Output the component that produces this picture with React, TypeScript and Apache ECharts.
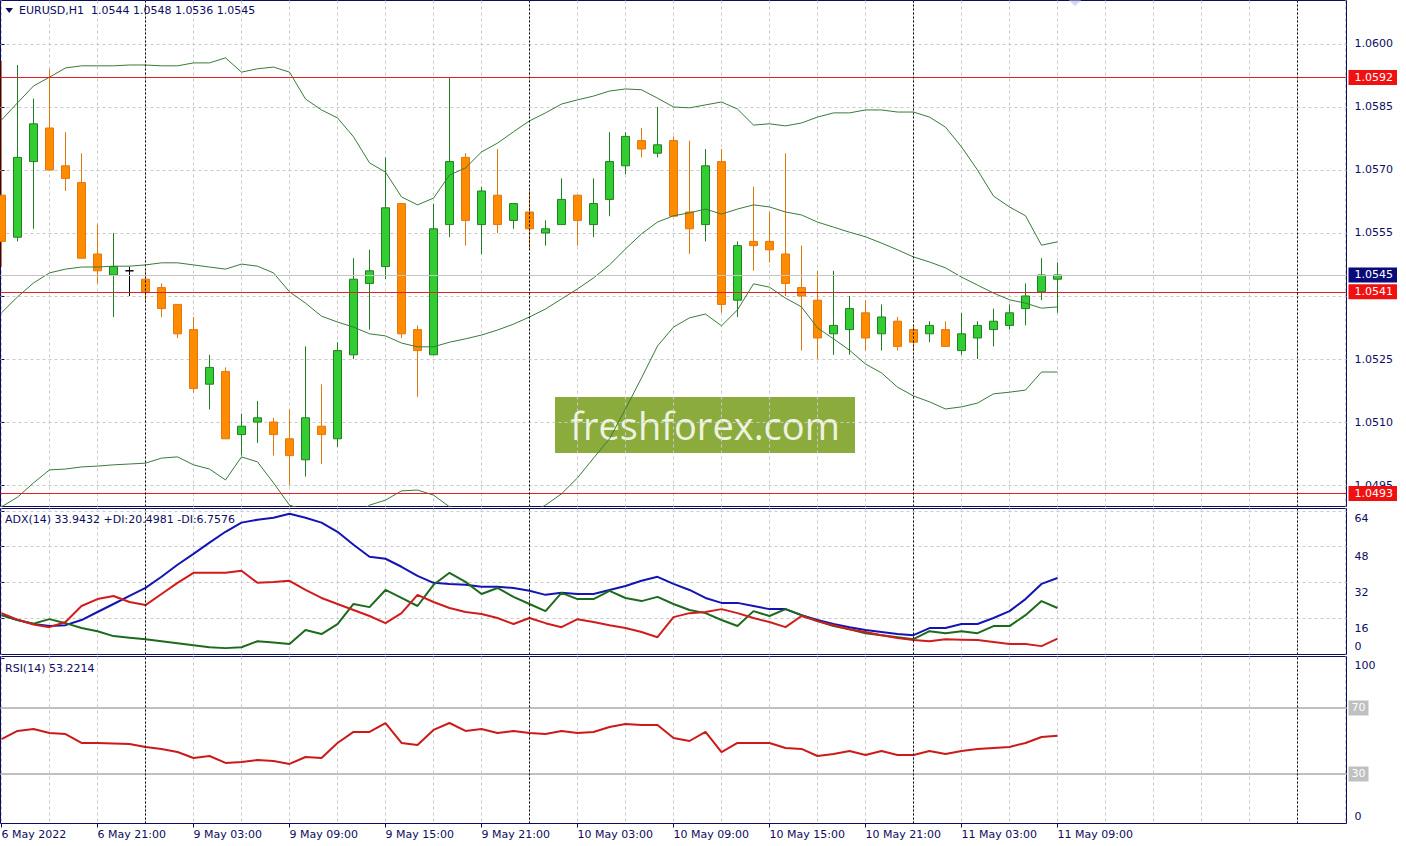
import React, { useEffect, useRef } from 'react';
import * as echarts from 'echarts';

// ---------- data ----------
// EURUSD H1 candles [open, high, low, close], first bar 6 May 2022 15:00
const ohlc: number[][] = [
  [1.0564, 1.0596, 1.0547, 1.0553],
  [1.0554, 1.0595, 1.0553, 1.0573],
  [1.0572, 1.0587, 1.0556, 1.0581],
  [1.0580, 1.0594, 1.0570, 1.0570],
  [1.0571, 1.0579, 1.0565, 1.0568],
  [1.0567, 1.0574, 1.0549, 1.0549],
  [1.0550, 1.0557, 1.0543, 1.0546],
  [1.0545, 1.0555, 1.0535, 1.0547],
  [1.0546, 1.0547, 1.0540, 1.0546],
  [1.0544, 1.0546, 1.0539, 1.0541],
  [1.0542, 1.0543, 1.0535, 1.0537],
  [1.0538, 1.0538, 1.0530, 1.0531],
  [1.0532, 1.0535, 1.0517, 1.0518],
  [1.0519, 1.0526, 1.0513, 1.0523],
  [1.0522, 1.0523, 1.0506, 1.0506],
  [1.0507, 1.0512, 1.0502, 1.0509],
  [1.0510, 1.0515, 1.0505, 1.0511],
  [1.0510, 1.0511, 1.0502, 1.0507],
  [1.0506, 1.0513, 1.0495, 1.0502],
  [1.0501, 1.0528, 1.0497, 1.0511],
  [1.0509, 1.0519, 1.0500, 1.0507],
  [1.0506, 1.0529, 1.0504, 1.0527],
  [1.0526, 1.0549, 1.0525, 1.0544],
  [1.0543, 1.0551, 1.0532, 1.0546],
  [1.0547, 1.0573, 1.0544, 1.0561],
  [1.0562, 1.0562, 1.0530, 1.0531],
  [1.0532, 1.0533, 1.0516, 1.0527],
  [1.0526, 1.0562, 1.0526, 1.0556],
  [1.0557, 1.0592, 1.0554, 1.0572],
  [1.0573, 1.0574, 1.0552, 1.0558],
  [1.0557, 1.0566, 1.0550, 1.0565],
  [1.0564, 1.0575, 1.0555, 1.0557],
  [1.0558, 1.0562, 1.0556, 1.0562],
  [1.0560, 1.0565, 1.0551, 1.0556],
  [1.0555, 1.0558, 1.0552, 1.0556],
  [1.0557, 1.0568, 1.0557, 1.0563],
  [1.0564, 1.0564, 1.0552, 1.0558],
  [1.0557, 1.0568, 1.0554, 1.0562],
  [1.0563, 1.0579, 1.0559, 1.0572],
  [1.0571, 1.0579, 1.0569, 1.0578],
  [1.0577, 1.0580, 1.0573, 1.0575],
  [1.0574, 1.0585, 1.0573, 1.0576],
  [1.0577, 1.0578, 1.0559, 1.0559],
  [1.0560, 1.0577, 1.0550, 1.0556],
  [1.0557, 1.0575, 1.0553, 1.0571],
  [1.0572, 1.0575, 1.0536, 1.0538],
  [1.0539, 1.0553, 1.0535, 1.0552],
  [1.0553, 1.0566, 1.0546, 1.0552],
  [1.0553, 1.0560, 1.0548, 1.0551],
  [1.0550, 1.0574, 1.0540, 1.0543],
  [1.0542, 1.0552, 1.0527, 1.0540],
  [1.0539, 1.0546, 1.0525, 1.0530],
  [1.0531, 1.0546, 1.0526, 1.0533],
  [1.0532, 1.0540, 1.0526, 1.0537],
  [1.0536, 1.0539, 1.0527, 1.0530],
  [1.0531, 1.0538, 1.0527, 1.0535],
  [1.0534, 1.0535, 1.0527, 1.0528],
  [1.0532, 1.0533, 1.0527, 1.0529],
  [1.0531, 1.0534, 1.0529, 1.0533],
  [1.0532, 1.0534, 1.0528, 1.0528],
  [1.0527, 1.0536, 1.0526, 1.0531],
  [1.0530, 1.0534, 1.0525, 1.0533],
  [1.0532, 1.0537, 1.0528, 1.0534],
  [1.0533, 1.0538, 1.0532, 1.0536],
  [1.0537, 1.0543, 1.0533, 1.0540],
  [1.0541, 1.0549, 1.0539, 1.0545],
  [1.0544, 1.0548, 1.0536, 1.0545],
];

const bbUpper = [
  1.05819, 1.0586, 1.059, 1.05921, 1.05943, 1.05948, 1.05948, 1.05948, 1.0595, 1.0595,
  1.05948, 1.05948, 1.05955, 1.05955, 1.05967, 1.05933, 1.05941, 1.05945, 1.05933, 1.05869,
  1.05843, 1.05824, 1.05779, 1.05717, 1.05695, 1.05636, 1.05617, 1.05633, 1.05688, 1.05705,
  1.05743, 1.05764, 1.05791, 1.05817, 1.05836, 1.05857, 1.05867, 1.05876, 1.05888, 1.05893,
  1.05891, 1.05871, 1.0585, 1.05848, 1.05855, 1.05862, 1.05845, 1.05807, 1.0581, 1.05805,
  1.05812, 1.05826, 1.05836, 1.05836, 1.05843, 1.05843, 1.05838, 1.05838, 1.05826, 1.05802,
  1.05755, 1.057, 1.05638, 1.05612, 1.05591, 1.05521, 1.05529,
];
const bbMiddle = [
  1.0536, 1.05398, 1.05431, 1.05455, 1.05464, 1.05469, 1.05469, 1.05471, 1.05471, 1.05474,
  1.05479, 1.05479, 1.05474, 1.05469, 1.05464, 1.05476, 1.05471, 1.05455, 1.0541, 1.05383,
  1.05352, 1.05338, 1.05326, 1.0531, 1.05305, 1.05288, 1.05279, 1.05279, 1.0529, 1.05298,
  1.05307, 1.05319, 1.05333, 1.0535, 1.05369, 1.05393, 1.05417, 1.05443, 1.05474, 1.05512,
  1.05548, 1.05576, 1.05591, 1.05598, 1.05607, 1.05595, 1.05607, 1.05617, 1.05612, 1.056,
  1.05593, 1.05576, 1.05564, 1.05552, 1.05541, 1.05526, 1.0551, 1.05493, 1.05481, 1.05467,
  1.05445, 1.05426, 1.05407, 1.05391, 1.05383, 1.05371, 1.05374,
];
const bbLower = [
  1.04898, 1.04921, 1.04955, 1.04986, 1.04988, 1.04993, 1.04995, 1.04998, 1.05, 1.05002,
  1.05014, 1.05017, 1.04998, 1.04988, 1.04962, 1.05017, 1.05005, 1.04955, 1.04902, 1.0489,
  1.04862, 1.04852, 1.04874, 1.04902, 1.04914, 1.04936, 1.04938, 1.04926, 1.04898, 1.0489,
  1.04871, 1.04874, 1.04876, 1.04883, 1.04902, 1.04929, 1.04967, 1.05014, 1.0506, 1.05131,
  1.05205, 1.05281, 1.05326, 1.05348, 1.05357, 1.05329, 1.05367, 1.05429, 1.05421, 1.05395,
  1.05374, 1.05324, 1.05298, 1.05271, 1.05238, 1.05217, 1.05183, 1.05162, 1.05148, 1.05131,
  1.05136, 1.05145, 1.05167, 1.05171, 1.05176, 1.05219, 1.05219,
];

const adx = [
  17.3, 15.1, 13.3, 12.4, 12.8, 15.1, 18.7, 22.3, 25.9, 29.5,
  34.5, 39.9, 44.8, 49.8, 54.7, 58.8, 60.1, 61.0, 62.8, 61.0,
  58.8, 54.7, 48.9, 43.5, 42.6, 39.0, 34.9, 31.8, 31.3, 30.9,
  30.0, 30.0, 29.5, 28.2, 26.4, 27.3, 26.8, 26.8, 28.6, 30.4,
  32.7, 34.5, 31.3, 28.6, 25.0, 22.8, 22.8, 21.4, 20.0, 20.0,
  17.3, 15.1, 13.3, 11.9, 10.6, 9.7, 8.8, 8.3, 11.5, 11.5,
  13.3, 13.3, 16.0, 19.1, 24.5, 31.3, 33.9432,
];
const plusDI = [
  17.3, 15.1, 13.5, 15.5, 13.7, 11.5, 10.1, 7.9, 7.2, 6.5,
  5.6, 4.7, 3.8, 2.9, 2.5, 2.9, 5.6, 5.0, 4.3, 10.6,
  8.8, 13.3, 22.3, 20.9, 28.6, 25.0, 21.4, 30.9, 36.3, 32.2,
  26.8, 29.5, 25.5, 22.3, 19.1, 27.3, 24.5, 24.5, 28.2, 25.0,
  23.6, 25.5, 22.3, 19.6, 18.2, 15.1, 12.4, 19.1, 16.9, 20.0,
  17.3, 14.6, 12.4, 11.0, 9.2, 8.3, 7.4, 6.5, 10.1, 9.2,
  10.1, 9.2, 12.4, 12.4, 17.3, 23.6, 20.4981,
];
const minusDI = [
  18.2, 15.3, 13.1, 11.9, 14.2, 21.4, 24.5, 25.9, 23.2, 21.8,
  26.8, 31.8, 36.3, 36.3, 36.3, 37.2, 31.8, 32.2, 32.7, 28.6,
  25.0, 22.3, 19.6, 16.9, 13.7, 18.2, 26.4, 23.2, 20.5, 18.7,
  17.8, 16.0, 13.3, 16.0, 13.7, 11.9, 15.5, 14.2, 12.8, 11.5,
  9.7, 7.4, 16.4, 18.2, 18.7, 20.0, 18.2, 16.0, 14.2, 11.9,
  16.9, 14.6, 12.8, 11.0, 9.7, 8.3, 7.0, 6.1, 5.6, 6.5,
  6.3, 6.1, 5.2, 4.3, 4.3, 3.4, 6.7576,
];
const rsi = [
  51.2, 56.1, 57.3, 54.8, 54.2, 48.8, 48.8, 48.5, 48.2, 46.4,
  45.2, 43.3, 39.7, 40.9, 36.7, 37.3, 38.5, 37.9, 36.1, 40.3,
  39.7, 48.8, 55.5, 55.5, 60.9, 48.8, 47.6, 56.7, 60.9, 56.1,
  57.3, 54.8, 56.1, 54.8, 54.2, 56.1, 54.8, 55.5, 58.5, 60.3,
  59.7, 59.7, 51.8, 50.0, 55.5, 43.3, 48.8, 48.8, 48.8, 45.8,
  45.2, 40.9, 42.1, 43.9, 41.5, 43.9, 41.5, 41.5, 43.9, 42.1,
  43.9, 45.2, 45.8, 46.4, 48.8, 52.4, 53.2214,
];

const timeLabels = [
  '6 May 2022', '6 May 21:00', '9 May 03:00', '9 May 09:00', '9 May 15:00', '9 May 21:00',
  '10 May 03:00', '10 May 09:00', '10 May 15:00', '10 May 21:00', '11 May 03:00', '11 May 09:00',
];
const timeLabelBars = [0, 6, 12, 18, 24, 30, 36, 42, 48, 54, 60, 66];
const gridBars = [0, 3, 6, 9, 12, 15, 18, 21, 24, 27, 30, 33, 36, 39, 42, 45, 48, 51, 54, 57, 60, 63, 66, 69, 72, 75, 78, 81, 84];
const daySeparators = [9, 33, 57, 81];
const priceTicks = [1.0495, 1.051, 1.0525, 1.054, 1.0555, 1.057, 1.0585, 1.06];
const priceLevels = [1.0592, 1.0541, 1.0493];
const adxTicks = [0, 16, 32, 48, 64];
const rsiTicks = [0, 100];
const rsiLevels = [70, 30];

// ---------- styling ----------
const FONT = 'DejaVu Sans';
const NAVY = '#0c0c62';
const GRIDLINE = '#c9c9c9';
const X_MIN = -0.0625;
const X_MAX = 84.0625;
const Y_MIN = 1.0489881;
const Y_MAX = 1.0610357;

const last = ohlc[ohlc.length - 1];
const fmt4 = (v: number) => v.toFixed(4);

const labelBox = (bg: string, pad: number[] = [1, 4, 1, 6]) => ({
  show: true,
  position: 'end',
  distance: 2,
  formatter: (p: any) => (typeof p.value === 'number' && p.value < 5 ? fmt4(p.value) : String(p.value)),
  backgroundColor: bg,
  color: '#ffffff',
  padding: pad,
  fontFamily: FONT,
  fontSize: 11,
  lineHeight: 13,
});

const separatorMarkLine = {
  silent: true,
  symbol: ['none', 'none'],
  animation: false,
  precision: 4,
  lineStyle: { color: '#000000', type: [2, 2], width: 1 },
  label: { show: false },
  emphasis: { disabled: true },
  data: daySeparators.map((s) => ({ xAxis: s })),
};

const splitXAxis = (gridIndex: number) => ({
  type: 'value',
  gridIndex,
  min: X_MIN,
  max: X_MAX,
  position: 'top',
  axisLine: { show: false },
  axisTick: { show: false, customValues: gridBars },
  axisLabel: { show: false, customValues: gridBars },
  splitLine: { show: true, lineStyle: { color: GRIDLINE, type: [3, 3], width: 1 } },
});

const gridBase = {
  show: true,
  borderColor: NAVY,
  borderWidth: 1,
  backgroundColor: '#ffffff',
  containLabel: false,
  outerBoundsMode: 'none',
};

const lineSeries = (name: string, values: number[], xi: number, yi: number, color: string, width: number, extra: any = {}) => ({
  type: 'line',
  name,
  xAxisIndex: xi,
  yAxisIndex: yi,
  data: values.map((v, i) => [i, v]),
  symbol: 'none',
  showSymbol: false,
  silent: true,
  lineStyle: { color, width },
  emphasis: { disabled: true },
  z: 3,
  ...extra,
});

const titleStyle = { fontSize: 11, fontWeight: 'normal', color: NAVY, fontFamily: FONT };

const option: any = {
  animation: false,
  backgroundColor: '#ffffff',
  textStyle: { fontFamily: FONT },
  title: [
    {
      text: `EURUSD,H1  ${fmt4(last[0])} ${fmt4(last[1])} ${fmt4(last[2])} ${fmt4(last[3])}`,
      left: 19, top: 4.5, padding: 0, textStyle: titleStyle,
    },
    {
      text: `ADX(14) ${adx[adx.length - 1].toFixed(4)} +DI:${plusDI[plusDI.length - 1].toFixed(4)} -DI:${minusDI[minusDI.length - 1].toFixed(4)}`,
      left: 5, top: 513.5, padding: 0, textStyle: titleStyle,
    },
    {
      text: `RSI(14) ${rsi[rsi.length - 1].toFixed(4)}`,
      left: 5, top: 662.5, padding: 0, textStyle: titleStyle,
    },
  ],
  grid: [
    { ...gridBase, left: 0.5, top: 0.5, width: 1346, height: 506 },
    { ...gridBase, left: 0.5, top: 508.5, width: 1346, height: 146 },
    { ...gridBase, left: 0.5, top: 656.5, width: 1346, height: 167 },
  ],
  xAxis: [
    splitXAxis(0),
    splitXAxis(1),
    splitXAxis(2),
    {
      type: 'value',
      gridIndex: 2,
      min: X_MIN,
      max: X_MAX,
      position: 'bottom',
      axisLine: { show: false },
      axisTick: { show: true, length: 4, customValues: timeLabelBars, lineStyle: { color: NAVY, width: 1 } },
      axisLabel: {
        show: true,
        customValues: timeLabelBars,
        formatter: (v: number) => {
          const k = timeLabelBars.indexOf(Math.round(v));
          return k >= 0 ? timeLabels[k] : '';
        },
        align: 'left',
        margin: 5,
        color: NAVY,
        fontFamily: FONT,
        fontSize: 11,
      },
      splitLine: { show: false },
    },
  ],
  yAxis: [
    {
      type: 'value',
      gridIndex: 0,
      position: 'right',
      min: Y_MIN,
      max: Y_MAX,
      axisLine: { show: false },
      axisTick: { show: true, length: 3, customValues: priceTicks, lineStyle: { color: NAVY } },
      axisLabel: { customValues: priceTicks, formatter: (v: number) => fmt4(v), margin: 8, color: NAVY, fontFamily: FONT, fontSize: 11 },
      splitLine: { show: true, lineStyle: { color: GRIDLINE, type: [3, 3], width: 1 } },
    },
    {
      type: 'value',
      gridIndex: 1,
      position: 'right',
      min: -0.36,
      max: 65.14,
      axisLine: { show: false },
      axisTick: { show: true, length: 3, customValues: [16, 32, 48, 64], lineStyle: { color: NAVY } },
      axisLabel: {
        customValues: adxTicks,
        margin: 8,
        color: NAVY,
        fontFamily: FONT,
        fontSize: 11,
        formatter: (v: number) => {
          const r = Math.round(v);
          if (r === 0) return '{b|0}';
          if (r === 64) return '{c|64}';
          return `{a|${r}}`;
        },
        rich: {
          a: { padding: [20, 0, 0, 0], color: NAVY, fontFamily: FONT, fontSize: 11 },
          b: { padding: [0, 0, 14, 0], color: NAVY, fontFamily: FONT, fontSize: 11 },
          c: { padding: [14, 0, 0, 0], color: NAVY, fontFamily: FONT, fontSize: 11 },
        },
      },
      splitLine: { show: true, lineStyle: { color: GRIDLINE, type: [3, 3], width: 1 } },
    },
    {
      type: 'value',
      gridIndex: 2,
      position: 'right',
      min: 0,
      max: 101.21,
      axisLine: { show: false },
      axisTick: { show: true, length: 3, customValues: rsiTicks, lineStyle: { color: NAVY } },
      axisLabel: {
        customValues: rsiTicks,
        margin: 8,
        color: NAVY,
        fontFamily: FONT,
        fontSize: 11,
        formatter: (v: number) => (Math.round(v) === 0 ? '{b|0}' : `{t|${Math.round(v)}}`),
        rich: {
          t: { padding: [15, 0, 0, 0], color: NAVY, fontFamily: FONT, fontSize: 11 },
          b: { padding: [0, 0, 15, 0], color: NAVY, fontFamily: FONT, fontSize: 11 },
        },
      },
      splitLine: { show: false },
    },
  ],
  series: [
    {
      type: 'candlestick',
      name: 'EURUSD',
      xAxisIndex: 0,
      yAxisIndex: 0,
      barWidth: 9,
      silent: true,
      data: ohlc.map((c, i) => [i, c[0], c[3], c[2], c[1]]),
      itemStyle: {
        color: '#32cd32',
        color0: '#ff8c00',
        borderColor: '#217f21',
        borderColor0: '#e2770e',
        borderColorDoji: '#000000',
        borderWidth: 1,
      },
      z: 2,
      markLine: {
        silent: true,
        symbol: ['none', 'none'],
        animation: false,
        precision: 5,
        emphasis: { disabled: true },
        lineStyle: { color: '#e02222', type: 'solid', width: 1, opacity: 1 },
        label: labelBox('#f01010'),
        data: priceLevels.map((v) => ({ yAxis: v })),
      },
    },
    lineSeries('BB upper', bbUpper, 0, 0, '#3a7a3a', 1, {
      markLine: {
        silent: true,
        symbol: ['none', 'none'],
        animation: false,
        precision: 5,
        emphasis: { disabled: true },
        lineStyle: { color: '#c4c4c4', type: 'solid', width: 1 },
        label: labelBox('#0a0a78'),
        data: [{ yAxis: last[3] }],
      },
    }),
    lineSeries('BB middle', bbMiddle, 0, 0, '#3a7a3a', 1, { markLine: separatorMarkLine }),
    lineSeries('BB lower', bbLower, 0, 0, '#3a7a3a', 1),
    lineSeries('ADX', adx, 1, 1, '#1414b4', 2, { markLine: separatorMarkLine }),
    lineSeries('+DI', plusDI, 1, 1, '#1d6a1d', 2),
    lineSeries('-DI', minusDI, 1, 1, '#d01c1c', 2),
    lineSeries('RSI', rsi, 2, 2, '#cc1a1a', 2, {
      markLine: {
        silent: true,
        symbol: ['none', 'none'],
        animation: false,
        precision: 2,
        emphasis: { disabled: true },
        lineStyle: { color: '#c0c0c0', type: 'solid', width: 2 },
        label: labelBox('#c0c0c0', [1, 3, 1, 3]),
        data: rsiLevels.map((v) => ({ yAxis: v })),
      },
    }),
    lineSeries('RSI separators', [], 2, 2, '#000000', 1, { markLine: separatorMarkLine }),
  ],
  graphic: [
    {
      type: 'polygon',
      shape: { points: [[5.5, 8], [13, 8], [9.25, 13]] },
      style: { fill: NAVY },
      z: 50,
    },
    {
      type: 'polygon',
      shape: { points: [[1069, 0.5], [1081, 0.5], [1075, 6]] },
      style: { fill: '#d6d6f2' },
      z: 50,
    },
    {
      type: 'group',
      z: 60,
      children: [
        { type: 'rect', shape: { x: 555, y: 397, width: 300, height: 56 }, style: { fill: '#8bab3c' } },
        {
          type: 'text',
          x: 705,
          y: 425,
          style: {
            text: 'freshforex.com',
            fill: '#eef3df',
            font: '38px "Open Sans"',
            align: 'center',
            verticalAlign: 'middle',
          },
        },
      ],
    },
  ],
};

export default function App() {
  const ref = useRef<HTMLDivElement>(null);
  useEffect(() => {
    if (!ref.current) return;
    const chart = echarts.init(ref.current, null, { renderer: 'svg', width: 1406, height: 846 });
    chart.setOption(option);
    return () => {
      chart.dispose();
    };
  }, []);
  return (
    <div
      ref={ref}
      style={{ position: 'absolute', left: 0, top: 0, width: 1406, height: 846, background: '#ffffff' }}
    />
  );
}
